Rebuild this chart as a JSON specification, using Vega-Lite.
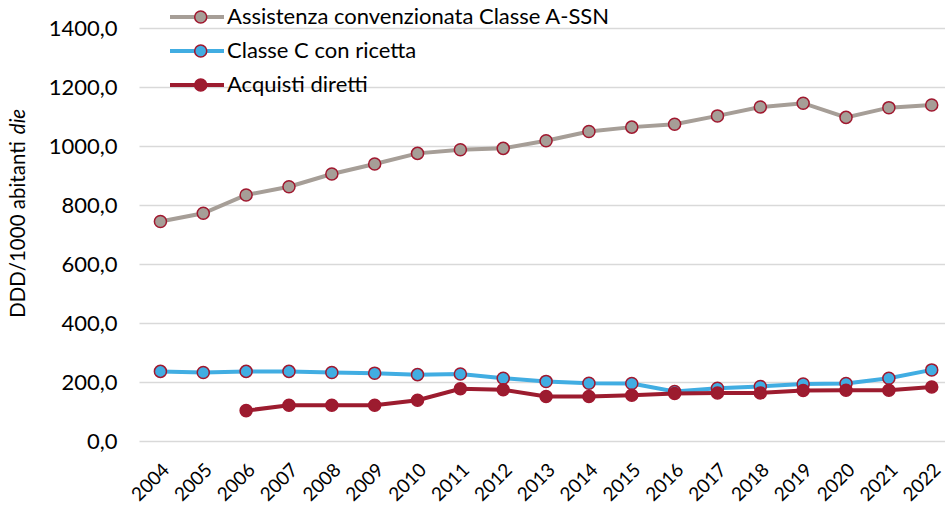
{
  "$schema": "https://vega.github.io/schema/vega-lite/v6.json",
  "width": 806,
  "height": 413,
  "autosize": "none",
  "padding": {"left": 139, "top": 28, "right": 0, "bottom": 69},
  "background": "white",
  "config": {
    "font": "Lato",
    "view": {"stroke": null},
    "axis": {"labelFont": "Lato", "titleFont": "Lato", "labelColor": "black", "titleColor": "black"},
    "legend": {"labelFont": "Lato", "labelColor": "black"}
  },
  "data": {
    "values": [
      {"year": 2004, "series": "Assistenza convenzionata Classe A-SSN", "value": 744},
      {"year": 2005, "series": "Assistenza convenzionata Classe A-SSN", "value": 772},
      {"year": 2006, "series": "Assistenza convenzionata Classe A-SSN", "value": 834},
      {"year": 2007, "series": "Assistenza convenzionata Classe A-SSN", "value": 862},
      {"year": 2008, "series": "Assistenza convenzionata Classe A-SSN", "value": 905},
      {"year": 2009, "series": "Assistenza convenzionata Classe A-SSN", "value": 939},
      {"year": 2010, "series": "Assistenza convenzionata Classe A-SSN", "value": 975},
      {"year": 2011, "series": "Assistenza convenzionata Classe A-SSN", "value": 987},
      {"year": 2012, "series": "Assistenza convenzionata Classe A-SSN", "value": 992},
      {"year": 2013, "series": "Assistenza convenzionata Classe A-SSN", "value": 1018},
      {"year": 2014, "series": "Assistenza convenzionata Classe A-SSN", "value": 1049},
      {"year": 2015, "series": "Assistenza convenzionata Classe A-SSN", "value": 1064},
      {"year": 2016, "series": "Assistenza convenzionata Classe A-SSN", "value": 1074},
      {"year": 2017, "series": "Assistenza convenzionata Classe A-SSN", "value": 1102},
      {"year": 2018, "series": "Assistenza convenzionata Classe A-SSN", "value": 1132},
      {"year": 2019, "series": "Assistenza convenzionata Classe A-SSN", "value": 1145},
      {"year": 2020, "series": "Assistenza convenzionata Classe A-SSN", "value": 1097},
      {"year": 2021, "series": "Assistenza convenzionata Classe A-SSN", "value": 1130},
      {"year": 2022, "series": "Assistenza convenzionata Classe A-SSN", "value": 1139},
      {"year": 2004, "series": "Classe C con ricetta", "value": 236},
      {"year": 2005, "series": "Classe C con ricetta", "value": 232},
      {"year": 2006, "series": "Classe C con ricetta", "value": 236},
      {"year": 2007, "series": "Classe C con ricetta", "value": 236},
      {"year": 2008, "series": "Classe C con ricetta", "value": 232},
      {"year": 2009, "series": "Classe C con ricetta", "value": 230},
      {"year": 2010, "series": "Classe C con ricetta", "value": 225},
      {"year": 2011, "series": "Classe C con ricetta", "value": 227},
      {"year": 2012, "series": "Classe C con ricetta", "value": 213},
      {"year": 2013, "series": "Classe C con ricetta", "value": 202},
      {"year": 2014, "series": "Classe C con ricetta", "value": 196},
      {"year": 2015, "series": "Classe C con ricetta", "value": 195},
      {"year": 2016, "series": "Classe C con ricetta", "value": 168},
      {"year": 2017, "series": "Classe C con ricetta", "value": 179},
      {"year": 2018, "series": "Classe C con ricetta", "value": 185},
      {"year": 2019, "series": "Classe C con ricetta", "value": 193},
      {"year": 2020, "series": "Classe C con ricetta", "value": 195},
      {"year": 2021, "series": "Classe C con ricetta", "value": 213},
      {"year": 2022, "series": "Classe C con ricetta", "value": 241},
      {"year": 2006, "series": "Acquisti diretti", "value": 103},
      {"year": 2007, "series": "Acquisti diretti", "value": 121},
      {"year": 2008, "series": "Acquisti diretti", "value": 121},
      {"year": 2009, "series": "Acquisti diretti", "value": 121},
      {"year": 2010, "series": "Acquisti diretti", "value": 138},
      {"year": 2011, "series": "Acquisti diretti", "value": 177},
      {"year": 2012, "series": "Acquisti diretti", "value": 174},
      {"year": 2013, "series": "Acquisti diretti", "value": 151},
      {"year": 2014, "series": "Acquisti diretti", "value": 151},
      {"year": 2015, "series": "Acquisti diretti", "value": 155},
      {"year": 2016, "series": "Acquisti diretti", "value": 161},
      {"year": 2017, "series": "Acquisti diretti", "value": 163},
      {"year": 2018, "series": "Acquisti diretti", "value": 163},
      {"year": 2019, "series": "Acquisti diretti", "value": 171},
      {"year": 2020, "series": "Acquisti diretti", "value": 172},
      {"year": 2021, "series": "Acquisti diretti", "value": 172},
      {"year": 2022, "series": "Acquisti diretti", "value": 183}
    ]
  },
  "encoding": {
    "x": {
      "field": "year",
      "type": "quantitative",
      "scale": {"domain": [2003.5, 2022.31], "nice": false, "zero": false},
      "axis": {
        "values": [2004, 2005, 2006, 2007, 2008, 2009, 2010, 2011, 2012, 2013, 2014, 2015, 2016, 2017, 2018, 2019, 2020, 2021, 2022],
        "format": "d",
        "labelAngle": -45,
        "labelFontSize": 19,
        "labelPadding": 19,
        "labelOffset": -1,
        "labelFlush": false,
        "labelOverlap": false,
        "grid": false,
        "ticks": false,
        "domain": false,
        "title": null
      }
    }
  },
  "layer": [
    {
      "mark": {"type": "line", "strokeWidth": 4},
      "encoding": {
        "y": {
          "field": "value",
          "type": "quantitative",
          "scale": {"domain": [0, 1400], "nice": false},
          "axis": {
            "values": [0, 200, 400, 600, 800, 1000, 1200, 1400],
            "labelExpr": "replace(format(datum.value, '.1f'), '.', ',')",
            "labelFontSize": 22,
            "labelPadding": 22,
            "grid": true,
            "gridColor": "#D9D9D9",
            "gridWidth": 1.5,
            "ticks": false,
            "domain": false,
            "title": "DDD/1000 abitanti",
            "titleFontSize": 20.5,
            "titleFontWeight": "normal",
            "titleX": -111,
            "titleY": 201
          }
        },
        "stroke": {
          "field": "series",
          "type": "nominal",
          "sort": ["Assistenza convenzionata Classe A-SSN", "Classe C con ricetta", "Acquisti diretti"],
          "scale": {"range": ["#A69E97", "#41ADE2", "#9C1C2F"]},
          "legend": {
            "title": null,
            "orient": "none",
            "legendX": 29,
            "legendY": -28,
            "symbolType": "stroke",
            "symbolSize": 2916,
            "symbolStrokeWidth": 4,
            "clipHeight": 34,
            "rowPadding": 0,
            "padding": 0,
            "labelFontSize": 22,
            "labelOffset": 1,
            "labelLimit": 600,
            "zindex": 0
          }
        }
      }
    },
    {
      "mark": {"type": "point", "shape": "circle", "filled": true, "size": 145, "opacity": 1, "stroke": "#A0182F", "strokeWidth": 1.5},
      "encoding": {
        "y": {
          "field": "value",
          "type": "quantitative",
          "scale": {"domain": [0, 1400], "nice": false},
          "axis": {
            "orient": "left",
            "labels": false,
            "grid": false,
            "ticks": false,
            "domain": false,
            "title": "die",
            "titleFontSize": 20.5,
            "titleFontWeight": "normal",
            "titleFontStyle": "italic",
            "titleX": -111,
            "titleY": 93
          }
        },
        "fill": {
          "field": "series",
          "type": "nominal",
          "scale": {"domain": ["Assistenza convenzionata Classe A-SSN", "Classe C con ricetta", "Acquisti diretti"], "range": ["#A69E97", "#41ADE2", "#9C1C2F"]},
          "legend": {
            "title": null,
            "orient": "none",
            "legendX": 50.7,
            "legendY": -28,
            "symbolType": "circle",
            "symbolSize": 145,
            "symbolStrokeColor": "#A0182F",
            "symbolStrokeWidth": 1.5,
            "symbolOpacity": 1,
            "clipHeight": 34,
            "rowPadding": 0,
            "padding": 0,
            "labelExpr": "''",
            "labelFontSize": 22,
            "zindex": 1
          }
        }
      }
    }
  ],
  "resolve": {"axis": {"y": "independent"}}
}
